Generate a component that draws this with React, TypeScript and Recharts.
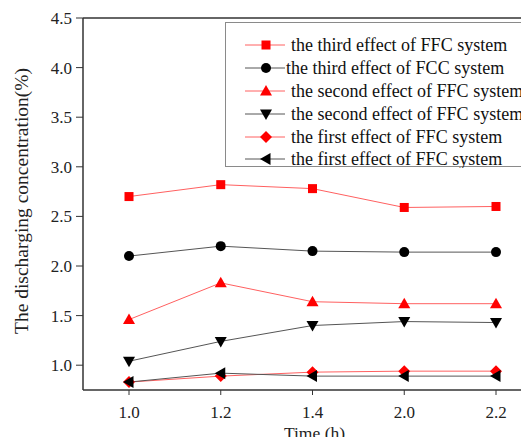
import React from "react"
import { LineChart, Line, XAxis, YAxis, ReferenceLine, Legend } from "recharts"

// sampling times (h), shown as evenly spaced categories
const times = ["1.0", "1.2", "1.4", "2.0", "2.2"]

// discharging concentration (%) per effect
const thirdFFC = [2.7, 2.82, 2.78, 2.59, 2.6]
const thirdFCC = [2.1, 2.2, 2.15, 2.14, 2.14]
const secondFFC = [1.46, 1.83, 1.64, 1.62, 1.62]
const secondFFC2 = [1.04, 1.24, 1.4, 1.44, 1.43]
const firstFFC = [0.83, 0.89, 0.93, 0.94, 0.94]
const firstFFC2 = [0.83, 0.92, 0.89, 0.89, 0.89]

const yTicks = [1.0, 1.5, 2.0, 2.5, 3.0, 3.5, 4.0, 4.5]

const seriesNames = [
  "the third effect of FFC system",
  "the third effect of FCC system",
  "the second effect of FFC system",
  "the second effect of FFC system",
  "the first effect of FFC system",
  "the first effect of FFC system",
]

const FONT = "'Liberation Serif', 'Times New Roman', serif"
const RED = "#ff0000"
const RED_LINE = "#ff6060"
const BLACK = "#000000"
const GRAY_LINE = "#555555"

type Shape = "square" | "circle" | "up" | "down" | "diamond" | "left"

const series = [
  { key: "s1", values: thirdFFC, shape: "square" as Shape, color: RED, line: RED_LINE },
  { key: "s2", values: thirdFCC, shape: "circle" as Shape, color: BLACK, line: GRAY_LINE },
  { key: "s3", values: secondFFC, shape: "up" as Shape, color: RED, line: RED_LINE },
  { key: "s4", values: secondFFC2, shape: "down" as Shape, color: BLACK, line: GRAY_LINE },
  { key: "s5", values: firstFFC, shape: "diamond" as Shape, color: RED, line: RED_LINE },
  { key: "s6", values: firstFFC2, shape: "left" as Shape, color: BLACK, line: GRAY_LINE },
]

const data = times.map((t, i) => {
  const row: any = { time: t }
  series.forEach((s) => {
    row[s.key] = s.values[i]
  })
  return row
})

function MarkerShape({ shape, x, y, color }: { shape: Shape; x: number; y: number; color: string }) {
  switch (shape) {
    case "square":
      return <rect x={x - 4.5} y={y - 4.5} width={9} height={9} fill={color} />
    case "circle":
      return <circle cx={x} cy={y} r={5} fill={color} />
    case "up":
      return <polygon points={`${x},${y - 6} ${x + 6},${y + 4.5} ${x - 6},${y + 4.5}`} fill={color} />
    case "down":
      return <polygon points={`${x},${y + 6} ${x + 6},${y - 4.5} ${x - 6},${y - 4.5}`} fill={color} />
    case "diamond":
      return <polygon points={`${x},${y - 6} ${x + 6},${y} ${x},${y + 6} ${x - 6},${y}`} fill={color} />
    case "left":
      return <polygon points={`${x - 6},${y} ${x + 4.5},${y - 6} ${x + 4.5},${y + 6}`} fill={color} />
  }
  return null
}

const makeDot = (shape: Shape, color: string) => (props: any) => {
  const { cx, cy, index } = props
  if (cx == null || cy == null) return <g key={index} />
  return (
    <g key={index}>
      <MarkerShape shape={shape} x={cx} y={cy} color={color} />
    </g>
  )
}

function LegendBox() {
  const rowY = [23, 46, 69, 92, 115, 137]
  return (
    <svg width={340} height={146} style={{ display: "block" }}>
      <rect x={0.5} y={0.5} width={360} height={144} fill="#fff" stroke="#8a8a8a" strokeWidth={1} />
      {series.map((s, i) => (
        <g key={s.key}>
          <line x1={20} x2={60} y1={rowY[i]} y2={rowY[i]} stroke={s.line} strokeWidth={1} />
          <MarkerShape shape={s.shape} x={41} y={rowY[i]} color={s.color} />
          <text
            x={i === 1 ? 61 : 66}
            y={rowY[i]}
            dy="0.33em"
            fontFamily={FONT}
            fontSize={18}
            fill="#111"
          >
            {seriesNames[i]}
          </text>
        </g>
      ))}
    </svg>
  )
}

export default function App() {
  return (
    <div style={{ margin: -8, width: 529, height: 445, overflow: "hidden", position: "relative", background: "#fff" }}>
      <LineChart width={560} height={445} data={data} margin={{ top: 18, right: 18, bottom: 0, left: 0 }}>
        <XAxis
          dataKey="time"
          height={55}
          padding={{ left: 46, right: 46 }}
          axisLine={{ stroke: "#333", strokeWidth: 1.5 }}
          tickLine={{ stroke: "#333" }}
          tickSize={5}
          tickMargin={11}
          tick={{ fontFamily: FONT, fontSize: 17, fill: "#222" }}
          label={{
            content: (p: any) => {
              const vb = p.viewBox
              return (
                <text x={vb.x + vb.width / 2 + 2} y={439} textAnchor="middle" fontFamily={FONT} fontSize={17.5} fill="#222">
                  Time (h)
                </text>
              )
            },
          }}
        />
        <YAxis
          width={83}
          type="number"
          domain={[0.75, 4.5]}
          ticks={yTicks}
          allowDataOverflow
          interval={0}
          axisLine={{ stroke: "#333", strokeWidth: 1.5 }}
          tickLine={{ stroke: "#333" }}
          tickSize={7}
          tickMargin={4}
          tickFormatter={(v: number) => v.toFixed(1)}
          tick={{ fontFamily: FONT, fontSize: 17, fill: "#222" }}
          label={{
            content: (p: any) => {
              const vb = p.viewBox
              const cy = vb.y + vb.height / 2 - 3
              return (
                <text
                  x={21}
                  y={cy}
                  transform={`rotate(-90 21 ${cy})`}
                  textAnchor="middle"
                  dominantBaseline="central"
                  fontFamily={FONT}
                  fontSize={19.5}
                  fill="#222"
                >
                  The discharging concentration(%)
                </text>
              )
            },
          }}
        />
        <ReferenceLine y={4.5} stroke="#333" strokeWidth={1.5} ifOverflow="visible" />
        <Legend
          layout="vertical"
          align="center"
          verticalAlign="middle"
          wrapperStyle={{ left: 225, top: 22, width: 340, height: 146 }}
          content={() => <LegendBox />}
        />
        {series.map((s) => (
          <Line
            key={s.key}
            dataKey={s.key}
            type="linear"
            stroke={s.line}
            strokeWidth={1}
            dot={makeDot(s.shape, s.color)}
            activeDot={false}
            isAnimationActive={false}
          />
        ))}
      </LineChart>
    </div>
  )
}
